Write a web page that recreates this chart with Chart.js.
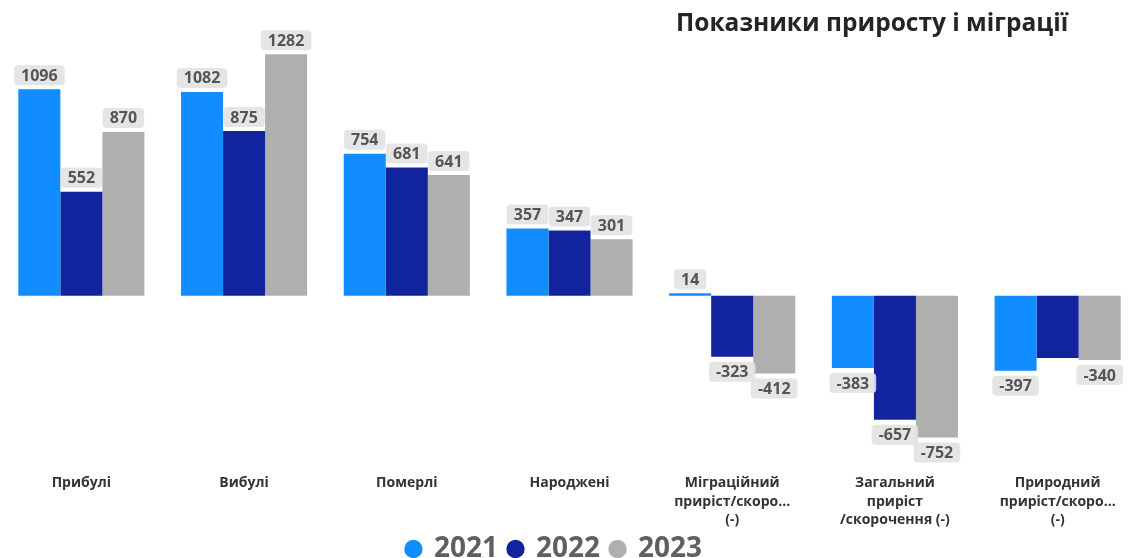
<!DOCTYPE html>
<html>
<head>
<meta charset="utf-8">
<script src="https://cdn.jsdelivr.net/npm/chart.js@4"></script>
<style>
  html, body { margin: 0; padding: 0; background: #fff; }
  #wrap { position: relative; width: 1139px; height: 558px; }
  #title {
    position: absolute; left: 676px; top: 5px;
    font: bold 24.5px "Open Sans", sans-serif; color: #252423;
  }
</style>
</head>
<body>
<div id="wrap">
  <canvas id="barChart" width="1139" height="558"></canvas>
  <div id="title">Показники приросту і міграції</div>
</div>
<script>
// Data
const categories = [
    ['Прибулі'],
    ['Вибулі'],
    ['Померлі'],
    ['Народжені'],
    ['Міграційний', 'приріст/скоро...', '(-)'],
    ['Загальний', 'приріст', '/скорочення (-)'],
    ['Природний', 'приріст/скоро...', '(-)']
];
const years = ['2021', '2022', '2023'];
const values2021 = [1096, 1082, 754, 357, 14, -383, -397];
const values2022 = [552, 875, 681, 347, -323, -657, -330];
const values2023 = [870, 1282, 641, 301, -412, -752, -340];
// labels that are not shown in the picture (dataset index, point index)
const hiddenLabels = [[1, 6]];

const colors = ['#118DFF', '#12239E', '#AFAFAF'];

// Value boxes over / under the bars
const valueLabels = {
    id: 'valueLabels',
    afterDatasetsDraw(chart) {
        const ctx = chart.ctx;
        ctx.save();
        ctx.font = 'bold 16px "Open Sans", sans-serif';
        ctx.textAlign = 'center';
        ctx.textBaseline = 'middle';
        chart.data.datasets.forEach((ds, di) => {
            const meta = chart.getDatasetMeta(di);
            meta.data.forEach((bar, i) => {
                if (hiddenLabels.some(h => h[0] === di && h[1] === i)) return;
                const v = ds.data[i];
                const txt = String(v);
                const w = ctx.measureText(txt).width + 14;
                const h = 20;
                const cy = v >= 0 ? bar.y - 4 - h / 2 : bar.y + 5 + h / 2;
                ctx.fillStyle = 'rgba(226,226,226,0.9)';
                ctx.beginPath();
                ctx.roundRect(bar.x - w / 2, cy - h / 2, w, h, 4);
                ctx.fill();
                ctx.fillStyle = '#555';
                ctx.fillText(txt, bar.x, cy + 1);
            });
        });
        ctx.restore();
    }
};

// legend sits tight against the bottom edge, slightly left of centre
const tightLegend = {
    id: 'tightLegend',
    beforeInit(chart) {
        const fit = chart.legend.fit;
        chart.legend.fit = function () {
            fit.call(this);
            this.height -= 26;
        };
    },
    afterLayout(chart) {
        const lg = chart.legend;
        lg.top -= 11;
        lg.left -= 15;
        lg.right -= 15;
    }
};

const barCtx = document.getElementById('barChart').getContext('2d');
const barChart = new Chart(barCtx, {
    type: 'bar',
    data: {
        labels: categories,
        datasets: [values2021, values2022, values2023].map((d, i) => ({
            label: years[i],
            data: d,
            backgroundColor: colors[i],
            borderWidth: 0,
            categoryPercentage: 0.775,
            barPercentage: 1
        }))
    },
    options: {
        responsive: false,
        animation: false,
        layout: { padding: { top: 32, left: 0, right: 0, bottom: 0 } },
        scales: {
            x: {
                grid: { display: false },
                border: { display: false },
                ticks: {
                    color: '#333',
                    font: { family: 'Open Sans', weight: 'bold', size: 14, lineHeight: 1.3 },
                    maxRotation: 0,
                    autoSkip: false,
                    padding: 6
                }
            },
            y: {
                display: false,
                min: -873,
                max: 1400
            }
        },
        plugins: {
            legend: {
                position: 'bottom',
                labels: {
                    usePointStyle: true,
                    pointStyle: 'circle',
                    boxWidth: 13,
                    boxHeight: 13,
                    padding: 11,
                    color: '#5f5f5f',
                    font: { family: 'Open Sans', weight: 'bold', size: 28 }
                }
            },
            tooltip: { enabled: false }
        }
    },
    plugins: [valueLabels, tightLegend]
});
</script>
</body>
</html>
